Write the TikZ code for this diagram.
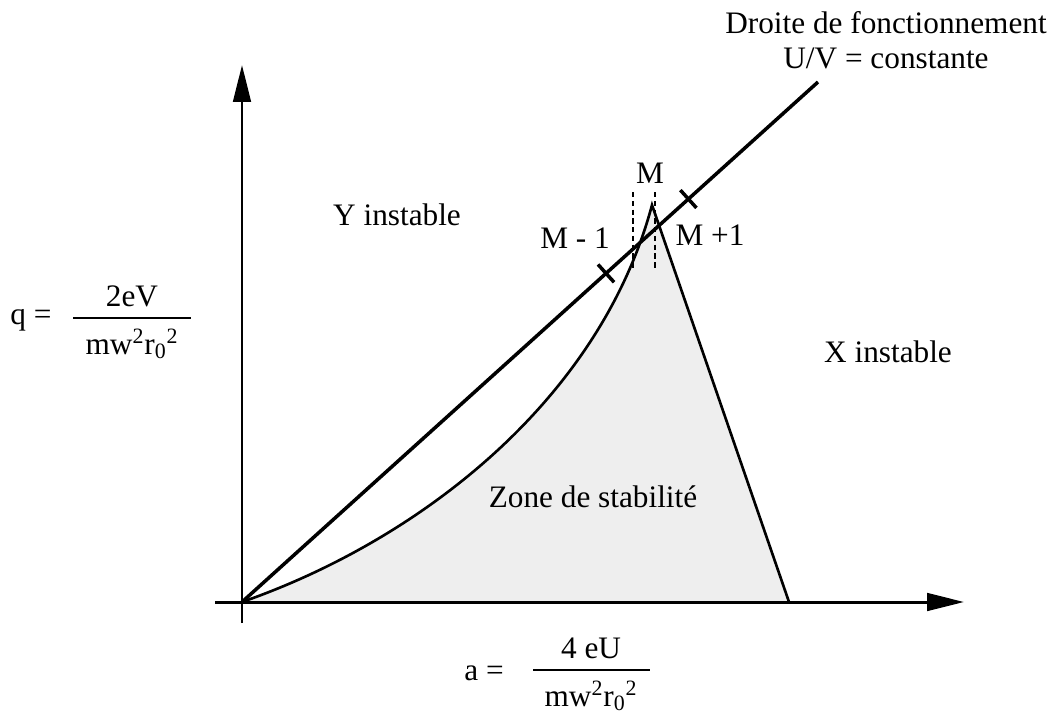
\documentclass[tikz,border=0pt]{standalone}
\usepackage{fontspec}
\setmainfont{Liberation Serif}
\usetikzlibrary{arrows.meta,positioning,calc}
\definecolor{zonegray}{RGB}{238,238,238}
\tikzset{
  lbl/.style={font=\fontsize{17.8}{20}\selectfont, inner sep=1pt, align=center},
  axe/.style={line width=1.7pt, -{Triangle[length=21pt,width=10pt]}},
  courbe/.style={line width=1.5pt},
  droite/.style={line width=2pt},
  repere/.style={line width=1.6pt, dash pattern=on 3pt off 2pt},
  barre/.style={fill, inner sep=0pt, minimum height=1.4pt},
}
\begin{document}
\begin{tikzpicture}[x=0.02cm, y=-0.02cm]
  \useasboundingbox (0,0) rectangle (1054,723);
  \coordinate (O) at (242,602);
  \coordinate (P) at (652,205);
  \coordinate (B) at (789,602);
  \coordinate (D) at (818,82);
  % zone de stabilite
  \fill[zonegray] (O) .. controls (420,540) and (600,400) .. (P) -- (B) -- cycle;
  % axes
  \coordinate (xs) at (215,602);
  \coordinate (xe) at (964,602);
  \coordinate (ys) at (242,623);
  \coordinate (ye) at (242,65);
  \draw[axe] (xs) -- (xe);
  \draw[axe] (ys) -- (ye);
  \draw[courbe] (O) .. controls (420,540) and (600,400) .. (P) -- (B);
  % droite de fonctionnement
  \draw[droite] (O) -- (D) coordinate[pos=0.632] (m1) coordinate[pos=0.775] (m2);
  \draw[droite] ($(m1)!0.24cm!90:(D)$) -- ($(m1)!0.24cm!-90:(D)$);
  \draw[droite] ($(m2)!0.24cm!90:(D)$) -- ($(m2)!0.24cm!-90:(D)$);
  \coordinate (g1h) at (633,192);
  \coordinate (g1b) at (633,268);
  \coordinate (g2h) at (655,192);
  \coordinate (g2b) at (655,268);
  \draw[repere] (g1h) -- (g1b);
  \draw[repere] (g2h) -- (g2b);
  % textes
  \node[lbl] (titre) at (886,40) {Droite de fonctionnement\\U/V = constante};
  \node[lbl] (yinst) at (397,215) {Y instable};
  \node[lbl] (xinst) at (888,352) {X instable};
  \node[lbl] (zone) at (593,497) {Zone de stabilité};
  \node[lbl] (mm) at (650,173) {M};
  \node[lbl] (mmoins) at (575,238) {M - 1};
  \node[lbl] (mplus) at (710,235) {M +1};
  % q
  \node[lbl] (qeq) at (31,320) {q =};
  \node[barre, minimum width=118*0.02cm] (qbar) at (132,318) {};
  \node[lbl, above=4pt of qbar] (qnum) {2eV};
  \node[lbl, below=4pt of qbar] (qden) {mw\textsuperscript{2}r\textsubscript{0}\textsuperscript{2}};
  % a
  \node[lbl] (aeq) at (484,673) {a =};
  \node[barre, minimum width=117*0.02cm] (abar) at (591,670) {};
  \node[lbl, above=4pt of abar] (anum) {4 eU};
  \node[lbl, below=4pt of abar] (aden) {mw\textsuperscript{2}r\textsubscript{0}\textsuperscript{2}};
\end{tikzpicture}
\end{document}
